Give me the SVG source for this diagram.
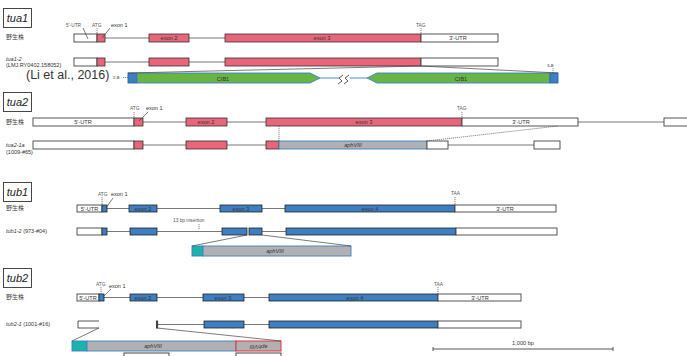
<svg xmlns="http://www.w3.org/2000/svg" width="687" height="356" viewBox="0 0 687 356">
<style>
.t{font-family:"Liberation Sans",Arial,"Noto Sans CJK JP",sans-serif;fill:#333}
.cjk{font-family:"Noto Sans CJK JP","Liberation Sans",sans-serif;fill:#444;font-size:6px}
.ttl{font-size:11px;font-style:italic;text-anchor:middle;fill:#222}
.lb{font-size:5.5px}
.sm{font-size:4.8px;fill:#555}
.ex{font-size:5.6px;text-anchor:middle}
.it{font-style:italic}
.utr{fill:#fff;stroke:#444;stroke-width:0.9}
.exr{fill:#e8657a;stroke:#333;stroke-width:0.8}
.exb{fill:#3d7fc2;stroke:#222;stroke-width:0.8}
.grey{fill:#b1b1b3;stroke:#3c7fc3;stroke-width:0.9}
.teal{fill:#1cb3ad;stroke:#3c7fc3;stroke-width:0.9}
.grn{fill:#68b545;stroke:#3c7fc3;stroke-width:0.9}
.blu{fill:#3c7fc3;stroke:#2a64a8;stroke-width:0.9}
.intr{stroke:#555;stroke-width:0.8;fill:none}
.tick{stroke:#555;stroke-width:0.7;stroke-dasharray:1.2,0.8;fill:none}
.ln{stroke:#444;stroke-width:0.7;fill:none}
.box{fill:#fff;stroke:#333;stroke-width:0.9}
</style>
<rect width="687" height="356" fill="#fff"/>

<!-- ===== tua1 ===== -->
<g id="title-tua1"><rect class="box" x="3.5" y="8.5" width="28" height="19"/><text class="t ttl" x="17.5" y="22">tua1</text></g>
<g id="tua1-wt">
<text class="cjk" x="6" y="39">野生株</text>
<path class="intr" d="M105,38H149M189,38H225"/>
<rect class="utr" x="74" y="34" width="23" height="8"/>
<rect class="exr" x="97" y="34" width="8" height="8"/>
<rect class="exr" x="149" y="34" width="40" height="8"/><text class="t ex" x="169" y="40">exon 2</text>
<rect class="exr" x="225" y="34" width="196" height="8"/><text class="t ex" x="322" y="40">exon 3</text>
<rect class="utr" x="421" y="34" width="77" height="8"/><text class="t ex" x="458" y="40">3'-UTR</text>
<text class="t sm" x="66" y="27">5'-UTR</text>
<text class="t sm" x="92" y="27">ATG</text>
<text class="t lb" x="111" y="27">exon 1</text>
<text class="t sm" x="416" y="27">TAG</text>
</g>
<g id="tua1-2">
<text class="t lb it" x="6" y="61">tua1-2</text>
<text class="t lb" x="6" y="67">(LMJ.RY0402.158052)</text>
<path class="intr" d="M105,62H149M189,62H225"/>
<rect class="utr" x="74" y="58" width="23" height="8"/>
<rect class="exr" x="97" y="58" width="8" height="8"/>
<rect class="exr" x="149" y="58" width="40" height="8"/>
<rect class="exr" x="225" y="58" width="196" height="8"/>
<rect class="utr" x="421" y="58" width="77" height="8"/>
<text class="t" x="26" y="79" font-size="12.5px" fill="#333">(Li et al., 2016)</text>
</g>
<g id="cib1">
<path d="M320,78H339M350,78H367" stroke="#3c7fc3" stroke-width="0.9" fill="none"/>
<path d="M338,84l4,-3l-3,-3l4,-3M344,84l4,-3l-3,-3l4,-3" stroke="#333" stroke-width="0.8" fill="none"/>
<rect class="blu" x="128" y="73" width="9" height="10"/>
<polygon class="grn" points="137,73 310,73 320,78 310,83 137,83"/>
<polygon class="grn" points="367,78 377,73 550,73 550,83 377,83"/>
<rect class="blu" x="550" y="73" width="8" height="10"/>
<text class="t ex" x="223" y="80.5" font-size="6.5px">CIB1</text>
<text class="t ex" x="461" y="80.5" font-size="6.5px">CIB1</text>
<text class="t" x="113" y="79" font-size="4.2px" fill="#3c7fc3">2-B</text>
<text class="t" x="547" y="67" font-size="4.2px" fill="#3c7fc3">3-B</text>
</g>

<!-- ===== tua2 ===== -->
<g id="title-tua2"><rect class="box" x="3.5" y="92.5" width="28" height="19"/><text class="t ttl" x="17.5" y="106">tua2</text></g>
<g id="tua2-wt">
<text class="cjk" x="6" y="124">野生株</text>
<path class="intr" d="M143,122H186M227,122H266M578,122H664"/>
<rect class="utr" x="33" y="118" width="101" height="8"/><text class="t ex" x="83" y="124">5'-UTR</text>
<rect class="exr" x="134" y="118" width="9" height="8"/>
<rect class="exr" x="186" y="118" width="41" height="8"/><text class="t ex" x="206" y="124">exon 2</text>
<rect class="exr" x="266" y="118" width="196" height="8"/><text class="t ex" x="364" y="124">exon 3</text>
<rect class="utr" x="462" y="118" width="116" height="8"/><text class="t ex" x="521" y="124">3'-UTR</text>
<rect class="utr" x="664" y="118" width="30" height="8"/>
<text class="t sm" x="130" y="110">ATG</text>
<text class="t lb" x="146" y="110">exon 1</text>
<text class="t sm" x="457" y="110">TAG</text>
</g>
<g id="tua2-1a">
<text class="t lb it" x="6" y="147">tua2-1a</text>
<text class="t lb" x="6" y="154">(1009-#65)</text>
<path class="intr" d="M143,145H186M227,145H266M448,145H534"/>
<rect class="utr" x="33" y="141" width="101" height="8"/>
<rect class="exr" x="134" y="141" width="9" height="8"/>
<rect class="exr" x="186" y="141" width="41" height="8"/>
<rect class="exr" x="266" y="141" width="13" height="8"/>
<rect class="grey" x="279" y="141" width="148" height="8"/><text class="t ex it" x="353" y="147" font-size="5px">aphVIII</text>
<rect class="utr" x="427" y="141" width="21" height="8"/>
<rect class="utr" x="534" y="141" width="26" height="8"/>
</g>

<!-- ===== tub1 ===== -->
<g id="title-tub1"><rect class="box" x="3.5" y="182.5" width="28" height="19"/><text class="t ttl" x="17.5" y="196">tub1</text></g>
<g id="tub1-wt">
<text class="cjk" x="6" y="210">野生株</text>
<path class="intr" d="M107,208.5H129M157,208.5H220M262,208.5H285"/>
<rect class="utr" x="77" y="205" width="25" height="7"/><text class="t ex" x="89.5" y="211" font-size="6.5px">5'-UTR</text>
<rect class="exb" x="102" y="205" width="5" height="7"/>
<rect class="exb" x="129" y="205" width="28" height="7"/><text class="t ex" x="143" y="211">exon 2</text>
<rect class="exb" x="220" y="205" width="42" height="7"/><text class="t ex" x="241" y="211">exon 3</text>
<rect class="exb" x="285" y="205" width="170" height="7"/><text class="t ex" x="370" y="211">exon 4</text>
<rect class="utr" x="455" y="205" width="101" height="7"/><text class="t ex" x="505" y="211">3'-UTR</text>
<text class="t sm" x="98" y="196">ATG</text>
<text class="t lb" x="111" y="196">exon 1</text>
<text class="t sm" x="451" y="195">TAA</text>
</g>
<g id="tub1-2">
<text class="t lb" x="6" y="233"><tspan class="it">tub1-2</tspan> (973-#04)</text>
<path class="intr" d="M107,231.5H130M157,231.5H222M262,231.5H286"/>
<rect class="utr" x="77" y="228" width="25" height="7"/>
<rect class="exb" x="102" y="228" width="5" height="7"/>
<rect class="exb" x="130" y="228" width="27" height="7"/>
<rect class="exb" x="222" y="228" width="25" height="7"/>
<rect class="exb" x="249" y="228" width="13" height="7"/>
<rect class="exb" x="286" y="228" width="170" height="7"/>
<rect class="utr" x="456" y="228" width="101" height="7"/>
<text class="t sm" x="173" y="222">13 bp insertion</text>
<rect class="teal" x="192" y="246" width="11" height="10"/>
<rect class="grey" x="203" y="246" width="148" height="10"/><text class="t ex it" x="275" y="252.5" font-size="5px">aphVIII</text>
</g>

<!-- ===== tub2 ===== -->
<g id="title-tub2"><rect class="box" x="3.5" y="268.5" width="28" height="19"/><text class="t ttl" x="17.5" y="282">tub2</text></g>
<g id="tub2-wt">
<text class="cjk" x="6" y="299">野生株</text>
<path class="intr" d="M104,297.5H130M157,297.5H203M244,297.5H269"/>
<rect class="utr" x="77" y="294" width="22" height="7"/><text class="t ex" x="88" y="300" font-size="6.5px">5'-UTR</text>
<rect class="exb" x="99" y="294" width="5" height="7"/>
<rect class="exb" x="130" y="294" width="27" height="7"/><text class="t ex" x="143" y="300">exon 2</text>
<rect class="exb" x="203" y="294" width="41" height="7"/><text class="t ex" x="223" y="300">exon 3</text>
<rect class="exb" x="269" y="294" width="169" height="7"/><text class="t ex" x="355" y="300">exon 4</text>
<rect class="utr" x="438" y="294" width="83" height="7"/><text class="t ex" x="480" y="300">3'-UTR</text>
<text class="t sm" x="96" y="286">ATG</text>
<text class="t lb" x="109" y="288">exon 1</text>
<text class="t sm" x="434" y="286">TAA</text>
</g>
<g id="tub2-1">
<text class="t lb" x="6" y="326"><tspan class="it">tub2-1</tspan> (1001-#16)</text>
<path d="M99,321H78V328H99" fill="#fff" stroke="#444" stroke-width="0.9"/>
<path class="intr" d="M157,324.5H204M244,324.5H269"/>
<rect class="exb" x="156.5" y="321" width="1.2" height="7"/>
<rect class="exb" x="204" y="321" width="40" height="7"/>
<rect class="exb" x="269" y="321" width="169" height="7"/>
<rect class="utr" x="438" y="321" width="83" height="7"/>
<rect x="124" y="353" width="45" height="10" fill="#fff" stroke="#333" stroke-width="0.9"/>
<rect x="236" y="353" width="45" height="10" fill="#fff" stroke="#333" stroke-width="0.9"/>
<rect class="teal" x="72" y="341" width="15" height="10"/>
<rect class="grey" x="87" y="341" width="149" height="10"/><text class="t ex it" x="153" y="347.5" font-size="5px">aphVIII</text>
<rect x="236" y="341" width="45" height="10" fill="#b1b1b3" stroke="#e8303a" stroke-width="1"/>
<text class="t ex it" x="258.5" y="347.5" font-size="5px" transform="rotate(180 258.5 346)">aphVIII</text>
</g>

<g id="scale">
<path d="M433,349H613M433,347V351M613,347V351" stroke="#555" stroke-width="1" fill="none"/>
<text class="t ex" x="523" y="345" font-size="5px" fill="#555">1,000 bp</text>
</g>

<!-- connectors -->
<g id="connectors">
<path class="tick" d="M97,28V34M421,28V34M134,112V118M462,112V118M102,197V205M455,197V205M101,287V294M438,287V294M199,224V230M553,68V73M123,77.5H128"/>
<path class="ln" d="M83,28L88,39M110,28L102,38M148,112L139,121M113,198L106,208M111,289L103,297"/>
<path class="ln" d="M128,73L421,66L558,73"/>
<path class="tick" d="M279,126V141M427,141L558,126"/>
<path class="ln" d="M192,246L247,235M262,235L351,246"/>
<path class="ln" d="M72,341L99,328M157,328L281,341"/>
</g>
</svg>
